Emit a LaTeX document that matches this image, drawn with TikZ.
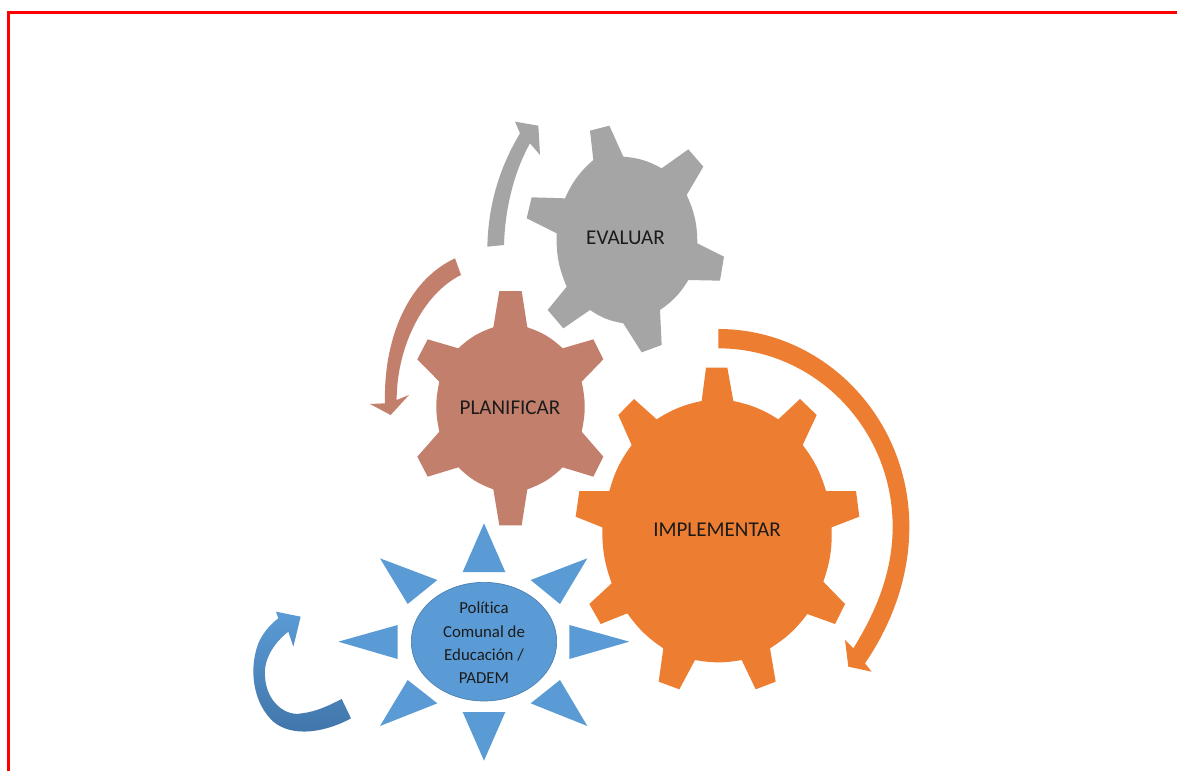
\documentclass[tikz,border=0pt]{standalone}
\usepackage{fontspec}
\setmainfont[Ligatures=NoCommon]{Carlito}
\definecolor{grayc}{HTML}{A5A5A5}
\definecolor{terra}{HTML}{C27F6C}
\definecolor{orangec}{HTML}{ED7D31}
\definecolor{bluec}{HTML}{5B9BD5}
\definecolor{blued}{HTML}{3F74A8}
\definecolor{edgeb}{HTML}{4A7FB0}
\definecolor{inkc}{HTML}{1B1B1B}
\tikzset{
  gearlabel/.style={font=\fontsize{15.8pt}{18pt}\selectfont,text=inkc,inner sep=0pt},
  sunlabel/.style={font=\fontsize{12.6pt}{17.5pt}\selectfont,text=inkc,inner sep=0pt,align=center},
  arc6/.style={bend left=12},
  arc8/.style={bend left=10},
  zoomview/.style={scale=0.33333}
}
\begin{document}
\begin{tikzpicture}[x=0.75pt,y=-0.75pt]
\useasboundingbox (0,0) rectangle (1177,771);
\fill[white] (0,0) rectangle (1177,771);
% frame
\draw[red,line width=1.6pt] (8.5,771) -- (8.5,12.5) -- (1177,12.5);

% EVALUAR gear and arrow
\begin{scope}[shift={(360,110)},zoomview]
\fill[grayc] (690,62) -- (748,47) -- (790,140) to[arc6] (905,175) -- (985,118) -- (1030,170) -- (980,255) to[arc6] (1012,400) -- (1092,440) -- (1080,512) -- (985,510) to[arc6] (900,600) -- (905,705) -- (845,727) -- (790,640) to[arc6] (690,600) -- (610,655) -- (563,600) -- (620,530) to[arc6] (590,370) -- (500,325) -- (515,262) -- (615,265) to[arc6] (700,150) -- cycle;
\fill[grayc] (382,410) .. controls (385,280) and (420,170) .. (480,70) -- (465,35) -- (535,47) -- (540,135) -- (510,100) .. controls (465,180) and (435,290) .. (432,405) -- cycle;
\end{scope}

% PLANIFICAR gear and arrow
\begin{scope}[shift={(360,250)},zoomview]
\fill[terra] (418,123) -- (485,123) -- (502,232) to[arc6] (608,295) -- (700,268) -- (730,328) -- (665,395) to[arc6] (665,545) -- (730,620) -- (700,680) -- (608,652) to[arc6] (502,718) -- (485,826) -- (418,826) -- (400,718) to[arc6] (295,652) -- (203,680) -- (172,620) -- (238,545) to[arc6] (238,395) -- (172,328) -- (203,268) -- (295,295) to[arc6] (400,232) -- cycle;
\fill[terra] (285,25) .. controls (135,95) and (70,280) .. (75,460) -- (30,462) -- (92,495) -- (147,435) -- (110,450) .. controls (110,290) and (190,130) .. (303,75) -- cycle;
\end{scope}

% IMPLEMENTAR gear and arrow
\begin{scope}[shift={(570,320)},zoomview]
\fill[orangec] (408,143) -- (472,143) -- (490,243) to[arc8] (625,298) -- (690,237) -- (740,285) -- (698,375) to[arc8] (768,513) -- (858,513) -- (868,590) -- (785,622) to[arc8] (760,785) -- (825,852) -- (795,912) -- (712,882) to[arc8] (600,985) -- (617,1085) -- (557,1108) -- (515,1020) to[arc8] (375,1020) -- (328,1108) -- (266,1085) -- (280,985) to[arc8] (172,880) -- (92,912) -- (58,852) -- (125,790) to[arc8] (97,622) -- (17,590) -- (28,513) -- (118,513) to[arc8] (185,375) -- (145,285) -- (192,237) -- (260,298) to[arc8] (395,243) -- cycle;
\fill[orangec] (445,27) .. controls (761,27) and (1018,293) .. (1018,620) .. controls (1018,780) and (960,920) .. (885,1030) -- (905,1055) -- (835,1040) -- (825,960) -- (850,985) .. controls (915,880) and (968,760) .. (968,620) .. controls (968,325) and (734,85) .. (445,85) -- cycle;
\end{scope}

% Sun and arrow
\begin{scope}[shift={(230,500)},zoomview]
\fill[bluec] (762,70) -- (698,216) -- (826,216) -- cycle;
\fill[bluec] (762,782) -- (698,636) -- (826,636) -- cycle;
\fill[bluec] (325,425) -- (503,375) -- (503,477) -- cycle;
\fill[bluec] (1198,425) -- (1018,375) -- (1018,477) -- cycle;
\fill[bluec] (450,175) -- (622,240) -- (533,312) -- cycle;
\fill[bluec] (1072,175) -- (902,240) -- (990,312) -- cycle;
\fill[bluec] (450,678) -- (533,540) -- (622,610) -- cycle;
\fill[bluec] (1072,678) -- (990,540) -- (902,610) -- cycle;
\fill[bluec,draw=edgeb,line width=0.5pt] (762,425) ellipse [x radius=218,y radius=178];
\shade[top color=bluec,middle color=bluec,bottom color=blued] (363,655) .. controls (290,695) and (190,715) .. (130,665) .. controls (70,610) and (55,510) .. (85,430) .. controls (100,395) and (125,370) .. (145,355) -- (138,335) -- (212,350) -- (190,440) -- (175,395) .. controls (130,430) and (100,480) .. (105,530) .. controls (110,610) and (170,650) .. (215,640) .. controls (260,635) and (300,615) .. (335,597) -- cycle;
\end{scope}

\node[gearlabel] (evaluar) at (625.5,238) {EVALUAR};
\node[gearlabel] (planificar) at (510,408) {PLANIFICAR};
\node[gearlabel] (implementar) at (717,530) {IMPLEMENTAR};
\node[sunlabel] (politica) at (484,643) {Política\\Comunal de\\Educación /\\PADEM};
\end{tikzpicture}
\end{document}
